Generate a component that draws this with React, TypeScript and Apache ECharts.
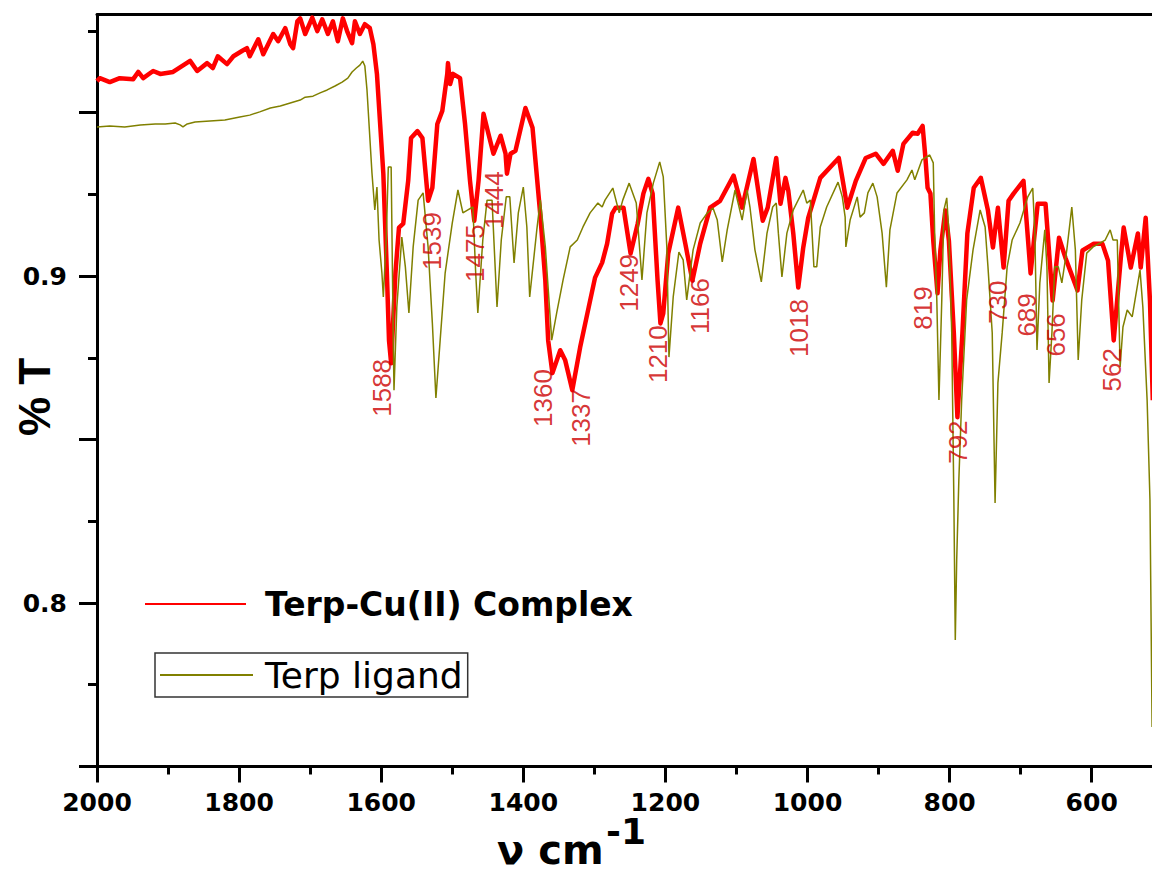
import React, { useEffect, useRef } from 'react';
import * as echarts from 'echarts';

// Terp-Cu(II) Complex spectrum (wavenumber cm-1, transmittance)
const complexWavenumber = [
  2000, 1996, 1982, 1968, 1949, 1942, 1935, 1921, 1911, 1893, 1869, 1859, 1845, 1837, 1830, 1817, 1808, 1796, 1789, 1785,
  1773, 1766, 1752, 1745, 1735, 1728, 1724, 1718, 1714, 1707, 1697, 1690, 1683, 1675, 1668, 1661, 1654, 1648, 1641, 1637,
  1630, 1623, 1616, 1611, 1606, 1597, 1592, 1589, 1586, 1580, 1575, 1569, 1562, 1558, 1549, 1542, 1534, 1528, 1521, 1514,
  1507, 1506, 1503, 1499, 1489, 1482, 1475, 1469, 1463, 1456, 1449, 1442, 1432, 1425, 1423, 1418, 1411, 1397, 1387, 1376,
  1369, 1365, 1359, 1348, 1341, 1331, 1320, 1308, 1299, 1289, 1282, 1275, 1270, 1259, 1249, 1239, 1231, 1224, 1218, 1211,
  1207, 1203, 1196, 1182, 1172, 1162, 1151, 1137, 1123, 1104, 1092, 1076, 1063, 1056, 1044, 1038, 1031, 1027, 1020, 1013,
  1006, 999, 982, 956, 951, 944, 932, 918, 904, 893, 880, 873, 865, 852, 845, 838, 834, 831, 827, 823,
  817, 813, 806, 801, 794, 789, 782, 775, 766, 756, 746, 739, 732, 724, 717, 710, 696, 686, 676, 665,
  655, 646, 637, 620, 613, 597, 585, 577, 569, 559, 555, 545, 535, 531, 524, 518, 514,
];
const complexT = [
  0.9596, 0.9605, 0.9593, 0.9605, 0.9602, 0.9624, 0.9605, 0.9627, 0.9618, 0.9624, 0.9658, 0.9627, 0.9651, 0.9636, 0.9672, 0.9648, 0.9672, 0.9688, 0.9697, 0.9672,
  0.9724, 0.9678, 0.974, 0.9718, 0.9758, 0.9709, 0.9697, 0.9779, 0.9788, 0.974, 0.979, 0.9749, 0.9785, 0.974, 0.9779, 0.9718, 0.9788, 0.9749, 0.9712, 0.9779,
  0.974, 0.977, 0.9758, 0.9709, 0.9618, 0.9313, 0.9008, 0.8803, 0.8733, 0.9008, 0.9148, 0.916, 0.9291, 0.9422, 0.9443, 0.9422, 0.923, 0.927, 0.9465, 0.9505,
  0.9618, 0.9651, 0.9587, 0.9618, 0.9605, 0.9465, 0.9291, 0.9169, 0.9291, 0.9496, 0.9434, 0.9374, 0.9429, 0.9374, 0.9313, 0.9374, 0.9383, 0.9514, 0.9453, 0.9185,
  0.8986, 0.8803, 0.8703, 0.8773, 0.8742, 0.8651, 0.8782, 0.8904, 0.8995, 0.9041, 0.9099, 0.9191, 0.9209, 0.9209, 0.9069, 0.916, 0.9252, 0.9297, 0.9252, 0.8986,
  0.8855, 0.8886, 0.9069, 0.9209, 0.9099, 0.8986, 0.9099, 0.9209, 0.923, 0.9307, 0.9209, 0.9358, 0.9169, 0.9209, 0.9361, 0.9221, 0.93, 0.9261, 0.913, 0.8965,
  0.9087, 0.9178, 0.93, 0.9361, 0.93, 0.9209, 0.9291, 0.9361, 0.9374, 0.9343, 0.9383, 0.9322, 0.9404, 0.9438, 0.9435, 0.9459, 0.9361, 0.927, 0.9252, 0.9108,
  0.8947, 0.9078, 0.92, 0.9108, 0.8824, 0.8568, 0.8824, 0.913, 0.927, 0.93, 0.92, 0.9087, 0.9209, 0.9026, 0.923, 0.9252, 0.9291, 0.9008, 0.9221, 0.9221,
  0.8925, 0.9117, 0.9056, 0.8956, 0.9078, 0.9099, 0.9099, 0.9047, 0.8803, 0.9056, 0.9148, 0.9026, 0.913, 0.9026, 0.9178, 0.8925, 0.862,
];

// Terp ligand spectrum
const ligandWavenumber = [
  2000, 1982, 1961, 1939, 1918, 1904, 1890, 1883, 1879, 1873, 1862, 1841, 1820, 1799, 1785, 1771, 1756, 1742, 1728, 1714,
  1707, 1696, 1686, 1676, 1665, 1655, 1647, 1641, 1635, 1630, 1626, 1623, 1620, 1613, 1609, 1606, 1603, 1599, 1597, 1593,
  1590, 1586, 1583, 1582, 1578, 1571, 1566, 1561, 1555, 1548, 1541, 1534, 1528, 1523, 1517, 1510, 1500, 1492, 1485, 1478,
  1471, 1467, 1464, 1457, 1451, 1444, 1437, 1431, 1424, 1419, 1413, 1407, 1400, 1395, 1391, 1381, 1376, 1369, 1360, 1353,
  1344, 1334, 1324, 1316, 1306, 1295, 1289, 1285, 1274, 1265, 1260, 1251, 1241, 1233, 1226, 1217, 1208, 1203, 1198, 1195,
  1189, 1181, 1175, 1170, 1161, 1151, 1141, 1133, 1127, 1120, 1113, 1102, 1092, 1085, 1081, 1074, 1065, 1057, 1049, 1044,
  1041, 1036, 1029, 1020, 1006, 1001, 996, 991, 987, 982, 973, 957, 951, 947, 946, 940, 930, 926, 920, 915,
  908, 902, 895, 889, 884, 874, 860, 853, 849, 839, 828, 823, 821, 818, 815, 811, 808, 804, 801, 797,
  794, 792, 790, 787, 783, 776, 767, 757, 750, 746, 740, 736, 732, 726, 719, 712, 701, 690, 683, 680,
  677, 673, 666, 663, 660, 656, 652, 647, 642, 635, 628, 623, 619, 614, 607, 598, 588, 581, 574, 570,
  564, 560, 556, 550, 543, 539, 532, 528, 522, 518, 515,
];
const ligandT = [
  0.9456, 0.9459, 0.9456, 0.9462, 0.9465, 0.9465, 0.9468, 0.9462, 0.9456, 0.9465, 0.9471, 0.9474, 0.9477, 0.9486, 0.9492, 0.9502, 0.9514, 0.952, 0.9529, 0.9538,
  0.9547, 0.955, 0.956, 0.9569, 0.9581, 0.9593, 0.9605, 0.9624, 0.9636, 0.9645, 0.9657, 0.9642, 0.9569, 0.9315, 0.9202, 0.9272, 0.911, 0.9009, 0.8936, 0.911,
  0.9333, 0.9333, 0.8804, 0.8651, 0.8905, 0.9119, 0.9028, 0.8887, 0.9089, 0.9232, 0.9254, 0.9089, 0.8856, 0.8627, 0.8804, 0.9009, 0.9162, 0.9263, 0.9193, 0.9202,
  0.9211, 0.9009, 0.8887, 0.911, 0.9232, 0.9232, 0.8905, 0.911, 0.9242, 0.9242, 0.904, 0.9193, 0.9272, 0.915, 0.8936, 0.9141, 0.9232, 0.9089, 0.8804, 0.8887,
  0.8988, 0.9089, 0.911, 0.915, 0.9193, 0.9223, 0.9211, 0.9232, 0.9269, 0.9193, 0.9232, 0.9284, 0.9223, 0.8988, 0.9193, 0.9284, 0.9349, 0.9303, 0.9089, 0.8752,
  0.8936, 0.9073, 0.9049, 0.8927, 0.908, 0.9162, 0.9193, 0.9208, 0.9171, 0.9043, 0.9141, 0.9263, 0.9171, 0.9263, 0.9211, 0.908, 0.8982, 0.9131, 0.9211, 0.9223,
  0.9131, 0.8997, 0.9131, 0.9202, 0.9263, 0.9223, 0.9232, 0.9028, 0.9028, 0.915, 0.9211, 0.9287, 0.9242, 0.918, 0.9089, 0.9171, 0.9242, 0.918, 0.9193, 0.9254,
  0.9284, 0.9242, 0.9131, 0.8966, 0.9141, 0.9254, 0.9294, 0.9324, 0.9294, 0.9355, 0.937, 0.9346, 0.9131, 0.8927, 0.8621, 0.8927, 0.9202, 0.9239, 0.9131, 0.8826,
  0.8315, 0.7887, 0.8132, 0.8376, 0.8621, 0.8927, 0.908, 0.9202, 0.915, 0.9028, 0.8826, 0.8306, 0.8673, 0.8826, 0.9028, 0.911, 0.9162, 0.9242, 0.9269, 0.9131,
  0.8774, 0.8979, 0.9141, 0.9028, 0.8673, 0.8826, 0.9028, 0.9028, 0.8979, 0.908, 0.9211, 0.908, 0.8743, 0.8927, 0.907, 0.9089, 0.9101, 0.911, 0.9141, 0.911,
  0.911, 0.8722, 0.8844, 0.8896, 0.8875, 0.8927, 0.9018, 0.8905, 0.8621, 0.8315, 0.7621,
];

// Peak annotations (text, and where each label sits in wavenumber / %T)
const peakLabels = ['1588', '1539', '1475', '1444', '1360', '1337', '1249', '1210', '1166', '1018', '819', '792', '730', '689', '656', '562'];
const peakLabelWavenumber = [1599, 1528, 1468, 1441, 1372, 1319, 1251, 1210, 1151, 1012, 837, 788, 732, 691, 650, 571];
const peakLabelT = [0.8658, 0.9107, 0.907, 0.9232, 0.8627, 0.8566, 0.8979, 0.8761, 0.8908, 0.8841, 0.8902, 0.8492, 0.892, 0.8881, 0.882, 0.8713];

const seriesNames = ['Terp-Cu(II) Complex', 'Terp ligand'];
const xLabelValues = [2000, 1800, 1600, 1400, 1200, 1000, 800, 600];
const yLabelValues = [0.8, 0.9];

export default function App() {
  const ref = useRef<HTMLDivElement>(null);

  useEffect(() => {
    document.body.style.margin = '0';
    if (!ref.current) return;
    const chart = echarts.init(ref.current, undefined, { renderer: 'svg' });

    const complexData = complexWavenumber.map((v, i) => [v, complexT[i]]);
    const ligandData = ligandWavenumber.map((v, i) => [v, ligandT[i]]);
    const peakData = peakLabels.map((t, i) => ({ name: t, value: [peakLabelWavenumber[i], peakLabelT[i]] }));

    const tickFont = { fontFamily: 'DejaVu Sans', fontWeight: 'bold' as const, fontSize: 25, color: '#000' };
    const black3 = { color: '#000', width: 3 };

    chart.setOption({
      animation: false,
      backgroundColor: '#fff',
      grid: [
        { left: 97, right: -81.8, top: -51, bottom: 108.5, outerBoundsMode: 'none', containLabel: false },
        { left: 97, right: -81.8, top: 14.4, bottom: 108.5, outerBoundsMode: 'none', containLabel: false },
      ],
      xAxis: [
        {
          gridIndex: 0, type: 'value', min: 400, max: 2000, interval: 200, inverse: true, position: 'bottom',
          axisLine: { show: true, onZero: false, lineStyle: black3 },
          axisTick: { show: true, length: 16, lineStyle: black3 },
          minorTick: { show: true, splitNumber: 2, length: 8, lineStyle: black3 },
          axisLabel: {
            ...tickFont, margin: 23,
            formatter: (v: number) => (xLabelValues.indexOf(Math.round(v)) >= 0 ? String(Math.round(v)) : ''),
          },
          splitLine: { show: false },
        },
        {
          gridIndex: 1, type: 'value', min: 400, max: 2000, inverse: true, position: 'top',
          axisLine: { show: true, onZero: false, lineStyle: black3 },
          axisTick: { show: false }, axisLabel: { show: false }, splitLine: { show: false },
        },
      ],
      yAxis: [
        {
          gridIndex: 0, type: 'value', min: 0.75, max: 1.0, interval: 0.05,
          axisLine: { show: false },
          axisTick: { show: true, length: 18, lineStyle: black3 },
          minorTick: { show: true, splitNumber: 2, length: 9, lineStyle: black3 },
          axisLabel: {
            ...tickFont, margin: 30,
            formatter: (v: number) => {
              const hit = yLabelValues.find((y) => Math.abs(y - v) < 1e-6);
              return hit !== undefined ? hit.toFixed(1) : '';
            },
          },
          splitLine: { show: false },
        },
        {
          gridIndex: 1, type: 'value', min: 0.75, max: 0.98,
          axisLine: { show: true, onZero: false, lineStyle: black3 },
          axisTick: { show: false }, axisLabel: { show: false }, splitLine: { show: false },
        },
      ],
      legend: [
        {
          data: [seriesNames[0]], left: 145, top: 587, padding: 0, orient: 'vertical',
          itemWidth: 101, itemHeight: 2, icon: 'rect', selectedMode: false,
          itemStyle: { borderWidth: 0 },
          textStyle: { fontFamily: 'DejaVu Sans', fontWeight: 'bold', fontSize: 33, lineHeight: 34, color: '#000', padding: [0, 0, 0, 14] },
        },
        {
          data: [seriesNames[1]], left: 155, top: 653, padding: [4, 5, 4, 5], orient: 'vertical',
          borderColor: '#333', borderWidth: 1.5,
          itemWidth: 93, itemHeight: 2, icon: 'rect', selectedMode: false,
          itemStyle: { borderWidth: 0 },
          textStyle: { fontFamily: 'DejaVu Sans', fontWeight: 'normal', fontSize: 36, lineHeight: 36, color: '#000', padding: [0, 0, 0, 7] },
        },
      ],
      series: [
        {
          name: seriesNames[0], type: 'line', xAxisIndex: 0, yAxisIndex: 0, data: complexData,
          showSymbol: false, symbol: 'none', smooth: false,
          lineStyle: { color: '#ff0000', width: 4.5, join: 'round' },
          itemStyle: { color: '#ff0000' }, silent: true,
        },
        {
          name: seriesNames[1], type: 'line', xAxisIndex: 0, yAxisIndex: 0, data: ligandData,
          showSymbol: false, symbol: 'none', smooth: false,
          lineStyle: { color: '#808000', width: 1.5 },
          itemStyle: { color: '#808000' }, silent: true,
        },
        {
          name: 'peaks', type: 'scatter', xAxisIndex: 0, yAxisIndex: 0, data: peakData,
          symbolSize: 1, itemStyle: { color: 'rgba(0,0,0,0)' }, silent: true, z: 5,
          label: {
            show: true, formatter: '{b}', position: 'inside', rotate: 90,
            align: 'center', verticalAlign: 'middle',
            fontFamily: 'Liberation Sans', fontSize: 26, color: '#cc0000',
          },
        },
      ],
      graphic: [
        {
          type: 'text', x: 34, y: 397, rotation: Math.PI / 2, silent: true,
          style: { text: '% T', font: 'bold 44px "Liberation Sans"', fill: '#000', textAlign: 'center', textVerticalAlign: 'middle', align: 'center', verticalAlign: 'middle' },
        },
        {
          type: 'text', x: 497, y: 850, silent: true,
          style: { text: 'ν cm', font: 'bold 40px "DejaVu Sans"', fill: '#000', textAlign: 'left', textVerticalAlign: 'middle', align: 'left', verticalAlign: 'middle' },
        },
        {
          type: 'text', x: 606, y: 831, silent: true,
          style: { text: '-1', font: 'bold 36px "DejaVu Sans"', fill: '#000', textAlign: 'left', textVerticalAlign: 'middle', align: 'left', verticalAlign: 'middle' },
        },
      ],
    });

    return () => chart.dispose();
  }, []);

  return <div ref={ref} style={{ width: 1152, height: 875 }} />;
}
